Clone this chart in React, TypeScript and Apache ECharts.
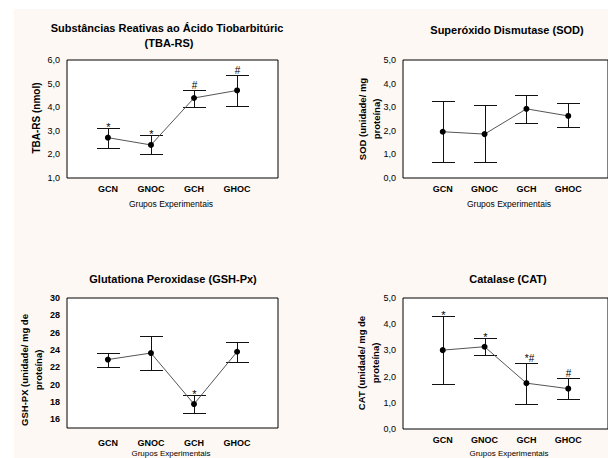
import React, { useEffect, useRef } from 'react';
import * as echarts from 'echarts';

const categories = ['GCN', 'GNOC', 'GCH', 'GHOC'];
const xPositions = [1, 2, 3, 4];

const tbaMean = [2.71, 2.4, 4.39, 4.71];
const tbaLower = [2.26, 2.0, 4.0, 4.03];
const tbaUpper = [3.11, 2.81, 4.71, 5.36];
const tbaMarks = ['*', '*', '#', '#'];
const tbaTicks = [1, 2, 3, 4, 5, 6];

const sodMean = [1.96, 1.86, 2.93, 2.63];
const sodLower = [0.67, 0.67, 2.35, 2.14];
const sodUpper = [3.26, 3.11, 3.5, 3.18];
const sodMarks = ['', '', '', ''];
const sodTicks = [0, 1, 2, 3, 4, 5];

const gshMean = [22.9, 23.65, 17.76, 23.8];
const gshLower = [22.0, 21.67, 16.73, 22.66];
const gshUpper = [23.65, 25.63, 18.82, 24.87];
const gshMarks = ['', '', '*', ''];
const gshTicks = [16, 18, 20, 22, 24, 26, 28, 30];

const catMean = [3.01, 3.14, 1.75, 1.54];
const catLower = [1.7, 2.81, 0.95, 1.14];
const catUpper = [4.33, 3.48, 2.51, 1.96];
const catMarks = ['*', '*', '*#', '#'];
const catTicks = [0, 1, 2, 3, 4, 5];

const FONT = '"Liberation Sans", Arial, Helvetica, sans-serif';
const fmt1 = (v: number) => v.toFixed(1).replace('.', ',');
const fmt0 = (v: number) => String(v);

const panels = [
  { grid: { left: 67, top: 60, width: 211, height: 118 }, mean: tbaMean, lower: tbaLower, upper: tbaUpper, marks: tbaMarks, min: 1, max: 6, ticks: tbaTicks, fmt: fmt1, boldY: false, xMargin: 6 },
  { grid: { left: 403, top: 60, width: 212, height: 118 }, mean: sodMean, lower: sodLower, upper: sodUpper, marks: sodMarks, min: 0, max: 5, ticks: sodTicks, fmt: fmt1, boldY: false, xMargin: 6 },
  { grid: { left: 67, top: 298, width: 211, height: 130 }, mean: gshMean, lower: gshLower, upper: gshUpper, marks: gshMarks, min: 15, max: 30, ticks: gshTicks, fmt: fmt0, boldY: true, xMargin: 10 },
  { grid: { left: 403, top: 298, width: 212, height: 131 }, mean: catMean, lower: catLower, upper: catUpper, marks: catMarks, min: 0, max: 5, ticks: catTicks, fmt: fmt1, boldY: false, xMargin: 6 },
];

export default function App() {
  const ref = useRef<HTMLDivElement>(null);
  useEffect(() => {
    if (!ref.current) return;
    const chart = echarts.init(ref.current, undefined, { renderer: 'svg' });
    const grids: any[] = [];
    const xAxes: any[] = [];
    const yAxes: any[] = [];
    const series: any[] = [];
    panels.forEach((p, i) => {
      grids.push({ ...p.grid, show: true, backgroundColor: '#ffffff', borderColor: '#000', borderWidth: 1, containLabel: false });
      xAxes.push({
        gridIndex: i, type: 'value', min: 0.05, max: 4.95,
        axisLine: { show: false }, axisTick: { show: false }, splitLine: { show: false },
        axisLabel: {
          customValues: xPositions,
          formatter: (v: number) => categories[Math.round(v) - 1] ?? '',
          fontFamily: FONT, fontWeight: 'bold', fontSize: 9, color: '#000000', margin: p.xMargin,
        },
      });
      yAxes.push({
        gridIndex: i, type: 'value', min: p.min, max: p.max,
        axisLine: { show: false }, axisTick: { show: false }, splitLine: { show: false },
        axisLabel: {
          customValues: p.ticks, formatter: p.fmt,
          fontFamily: FONT, fontWeight: p.boldY ? 'bold' : 'normal', fontSize: 9, color: '#000000', margin: 7,
        },
      });
      const marks = p.marks;
      series.push({
        type: 'custom', xAxisIndex: i, yAxisIndex: i, silent: true, clip: false, z: 2,
        data: p.mean.map((_, j) => [xPositions[j], p.lower[j], p.upper[j]]),
        encode: { x: 0, y: [1, 2] },
        renderItem: (params: any, api: any) => {
          const x = api.value(0);
          const lo = api.coord([x, api.value(1)]);
          const hi = api.coord([x, api.value(2)]);
          const cx = Math.round(lo[0]) + 0.5;
          const ly = Math.round(lo[1]) + 0.5;
          const hy = Math.round(hi[1]) + 0.5;
          const hw = 11.5;
          const st = { stroke: '#111', lineWidth: 1 };
          const children: any[] = [
            { type: 'line', shape: { x1: cx, y1: hy, x2: cx, y2: ly }, style: st },
            { type: 'line', shape: { x1: cx - hw, y1: hy, x2: cx + hw, y2: hy }, style: st },
            { type: 'line', shape: { x1: cx - hw, y1: ly, x2: cx + hw, y2: ly }, style: st },
          ];
          const m = marks[params.dataIndex];
          if (m) {
            const star = m === '*';
            children.push({
              type: 'text', x: cx + (m.length > 1 ? 3 : 0), y: hy + (star ? 4 : 0),
              style: { text: m, font: `${star ? 11 : 10}px ${FONT}`, align: 'center', verticalAlign: 'bottom', fill: '#000' },
            });
          }
          return { type: 'group', children };
        },
      });
      series.push({
        type: 'line', xAxisIndex: i, yAxisIndex: i, silent: true, z: 3,
        data: p.mean.map((m, j) => [xPositions[j], m]),
        symbol: 'circle', symbolSize: 6,
        itemStyle: { color: '#000' },
        lineStyle: { color: '#555', width: 1 },
      });
    });

    const txt = (x: number, y: number, text: string, font: string, extra: any = {}) => ({
      type: 'text', x, y, ...extra,
      style: { text, font, align: 'center', verticalAlign: 'middle', fill: '#000', lineHeight: 14 },
    });
    const titleFont = `bold 11px ${FONT}`;
    const nameFont = `bold 9.5px ${FONT}`;
    const groupFont = `8.5px ${FONT}`;
    const groupFontSmall = `8px ${FONT}`;
    const graphic: any[] = [
      { type: 'rect', z: -10, shape: { x: 14, y: 9, width: 594, height: 449 }, style: { fill: '#fdf8f4' } },
      txt(167, 28, 'Substâncias Reativas ao Ácido Tiobarbitúric', titleFont),
      txt(169, 43, '(TBA-RS)', titleFont),
      txt(507, 30, 'Superóxido Dismutase (SOD)', titleFont),
      txt(173, 279, 'Glutationa Peroxidase (GSH-Px)', titleFont),
      txt(508, 279, 'Catalase (CAT)', titleFont),
      txt(171, 204, 'Grupos Experimentais', groupFont),
      txt(509, 204, 'Grupos Experimentais', groupFont),
      txt(171, 453.5, 'Grupos Experimentais', groupFontSmall),
      txt(509, 453.5, 'Grupos Experimentais', groupFontSmall),
      txt(36, 118, 'TBA-RS (nmol)', `bold 10px ${FONT}`, { rotation: Math.PI / 2 }),
      txt(369, 119, 'SOD (unidade/ mg\nproteína)', nameFont, { rotation: Math.PI / 2 }),
      txt(31.5, 370, 'GSH-PX (unidade/ mg de\nproteína)', nameFont, { rotation: Math.PI / 2 }),
      txt(368.5, 363, 'CAT (unidade/ mg de\nproteína)', nameFont, { rotation: Math.PI / 2 }),
    ];

    chart.setOption({
      animation: false,
      backgroundColor: '#ffffff',
      grid: grids,
      xAxis: xAxes,
      yAxis: yAxes,
      series,
      graphic,
    });
    return () => chart.dispose();
  }, []);
  return (
    <div style={{ position: 'fixed', left: 0, top: 0, width: 608, height: 458, overflow: 'hidden' }}>
      <div ref={ref} style={{ width: 608, height: 458 }} />
    </div>
  );
}
